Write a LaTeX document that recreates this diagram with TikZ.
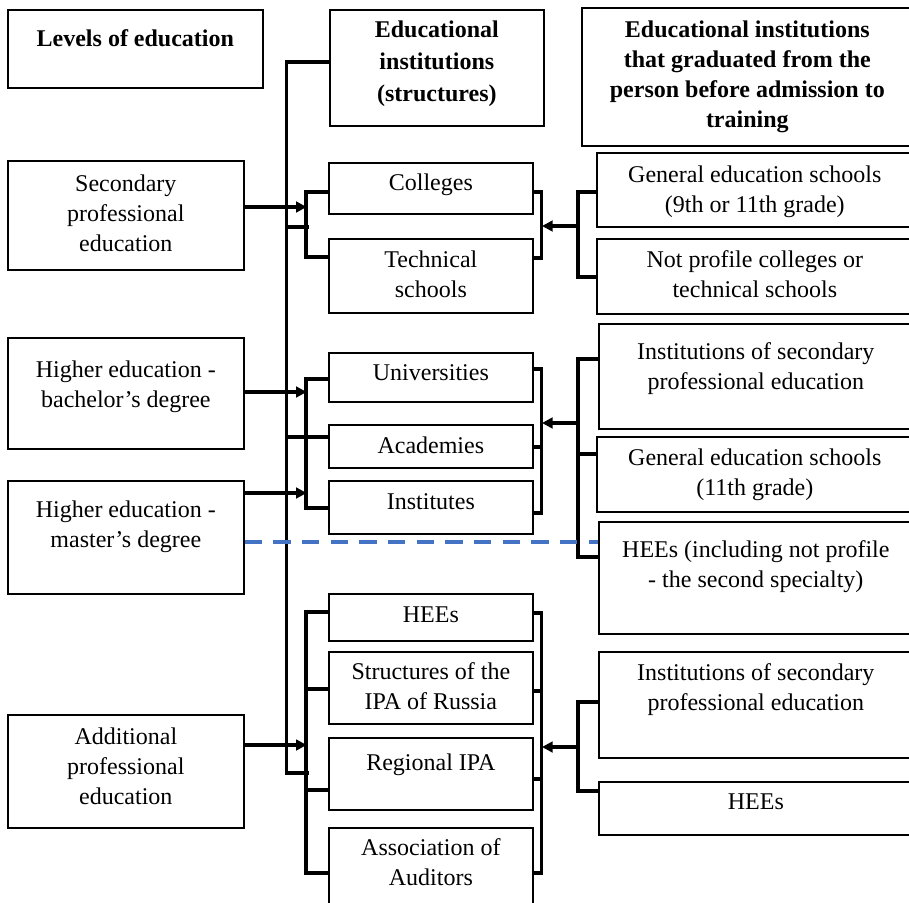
\documentclass[tikz,border=0pt]{standalone}
\usepackage{fontspec}
\setmainfont{Liberation Serif}
\usepackage{xcolor}
\usepackage{tikz}
\usetikzlibrary{arrows.meta, calc}

\definecolor{dashblue}{HTML}{4472C4}
\newlength\px
\setlength\px{0.75pt}
\newcommand{\boxtext}[4][8]{\parbox[c][#3\px][t]{#2\px}{\centering\vspace*{#1\px}\strut#4\par}}

\begin{document}
\begin{tikzpicture}[x=0.75pt, y=-0.75pt, font=\fontsize{18pt}{22.5pt}\selectfont,
    cell/.style={draw, line width=1.25pt, inner sep=0pt, anchor=north west},
    link/.style={line width=2.6pt},
    feed/.style={line width=2.3pt, -{Triangle[length=8pt, width=8pt]}},
    split/.style={line width=2.6pt, dashblue, dash pattern=on 13pt off 8.5pt}]
    \useasboundingbox (0,0) rectangle (909,902);
    \clip (0,0) rectangle (909,902);

    \node[cell] (levels) at (7,9)   {\boxtext[16]{255}{78}{\bfseries Levels of education}};
    \node[cell] (mhead)  at (329,9) {\boxtext[7]{214}{116}{\bfseries Educational\\[1.5pt] institutions\\[1.5pt] (structures)}};
    \node[cell] (rhead)  at (581,7) {\boxtext[9]{331}{138}{\bfseries Educational institutions\\ that graduated from the\\ person before admission to\\ training}};

    \node[cell] (sec)  at (7,160) {\boxtext[10]{236}{109}{Secondary\\ professional\\ education}};
    \node[cell] (bach) at (7,337) {\boxtext[19]{236}{111}{Higher education -\\ bachelor's degree}};
    \node[cell] (mast) at (7,480) {\boxtext[16]{236}{113}{Higher education -\\ master's degree}};
    \node[cell] (addl) at (7,714) {\boxtext[9]{236}{113}{Additional\\ professional\\ education}};

    \node[cell] (coll) at (328,162) {\boxtext[7]{204}{51}{Colleges}};
    \node[cell] (tech) at (328,238) {\boxtext{204}{74}{Technical\\ schools}};
    \node[cell] (univ) at (328,352) {\boxtext[7]{204}{49}{Universities}};
    \node[cell] (acad) at (328,424) {\boxtext{204}{43}{Academies}};
    \node[cell] (inst) at (328,480) {\boxtext{204}{53}{Institutes}};
    \node[cell] (hee)  at (328,593) {\boxtext{204}{47}{HEEs}};
    \node[cell] (ipa)  at (328,651) {\boxtext[7]{204}{72}{Structures of the\\ IPA of Russia}};
    \node[cell] (reg)  at (328,737) {\boxtext[12]{204}{72}{Regional IPA}};
    \node[cell] (aud)  at (328,827) {\boxtext[7]{204}{90}{Association of\\ Auditors}};

    \node[cell] (gen9)  at (596,152) {\boxtext[9]{316}{74}{General education schools\\ (9th or 11th grade)}};
    \node[cell] (notp)  at (596,238) {\boxtext{316}{75}{Not profile colleges or\\ technical schools}};
    \node[cell] (isec1) at (598,323) {\boxtext[15]{314}{105}{Institutions of secondary\\ professional education}};
    \node[cell] (gen11) at (596,436) {\boxtext{316}{75}{General education schools\\ (11th grade)}};
    \node[cell] (heei)  at (598,521) {\boxtext[15]{314}{112}{HEEs (including not profile\\ - the second specialty)}};
    \node[cell] (isec2) at (598,651) {\boxtext{314}{106}{Institutions of secondary\\ professional education}};
    \node[cell] (hees)  at (598,781) {\boxtext[7]{314}{53}{HEEs}};

    \draw[link] ($(mhead.north west)+(0,53)$) -| ($(addl.north east)+(42,59)$) -- ++(22,0);
    \draw[link] ($(sec.north east)+(42,67)$) -- ++(22,0);
    \draw[link] ($(acad.north west)+(-43,13)$) -- ($(acad.north west)+(0,13)$);

    \draw[link] ($(coll.north west)+(0,30)$) -- ++(-22,0) |- ($(tech.north west)+(0,19)$);
    \draw[link] ($(univ.north west)+(0,27)$) -- ++(-22,0) |- ($(inst.north west)+(0,28)$);
    \draw[link] ($(hee.north west)+(0,19)$) -- ++(-22,0) |- ($(aud.north west)+(0,46)$);
    \draw[link] ($(ipa.north west)+(0,38)$) -- ++(-22,0);
    \draw[link] ($(reg.north west)+(0,53)$) -- ++(-22,0);

    \draw[feed] ($(sec.north east)+(0,47)$) -- ++(62,0);
    \draw[feed] ($(bach.north east)+(0,55)$) -- ++(62,0);
    \draw[feed] ($(mast.north east)+(0,13)$) -- ++(62,0);
    \draw[feed] ($(addl.north east)+(0,31)$) -- ++(62,0);

    \draw[link] ($(coll.north east)+(0,30)$) -- ++(8,0) |- ($(tech.north east)+(0,20)$);
    \draw[link] ($(univ.north east)+(0,17)$) -- ++(8,0) |- ($(inst.north east)+(0,33)$);
    \draw[link] ($(acad.north east)+(0,23)$) -- ++(8,0);
    \draw[link] ($(hee.north east)+(0,20)$) -- ++(8,0) |- ($(aud.north east)+(0,46)$);
    \draw[link] ($(ipa.north east)+(0,40)$) -- ++(8,0);
    \draw[link] ($(reg.north east)+(0,42)$) -- ++(8,0);

    \draw[link] ($(gen9.north west)+(0,40)$) -- ++(-18,0) |- ($(notp.north west)+(0,39)$);
    \draw[link] ($(isec1.north west)+(0,36)$) -- ++(-20,0) |- ($(heei.north west)+(0,36)$);
    \draw[link] ($(gen11.north west)+(0,18)$) -- ++(-18,0);
    \draw[link] ($(isec2.north west)+(0,51)$) -- ++(-20,0) |- ($(hees.north west)+(0,10)$);

    \draw[feed] ($(gen9.north west)+(-18,74)$) -- ++(-36,0);
    \draw[feed] ($(gen11.north west)+(-18,-13)$) -- ++(-36,0);
    \draw[feed] ($(isec2.north west)+(-20,96)$) -- ++(-36,0);

    \draw[split] ($(mast.north east)+(0,62)$) -- ($(heei.north west)+(0,21)$);
\end{tikzpicture}
\end{document}
